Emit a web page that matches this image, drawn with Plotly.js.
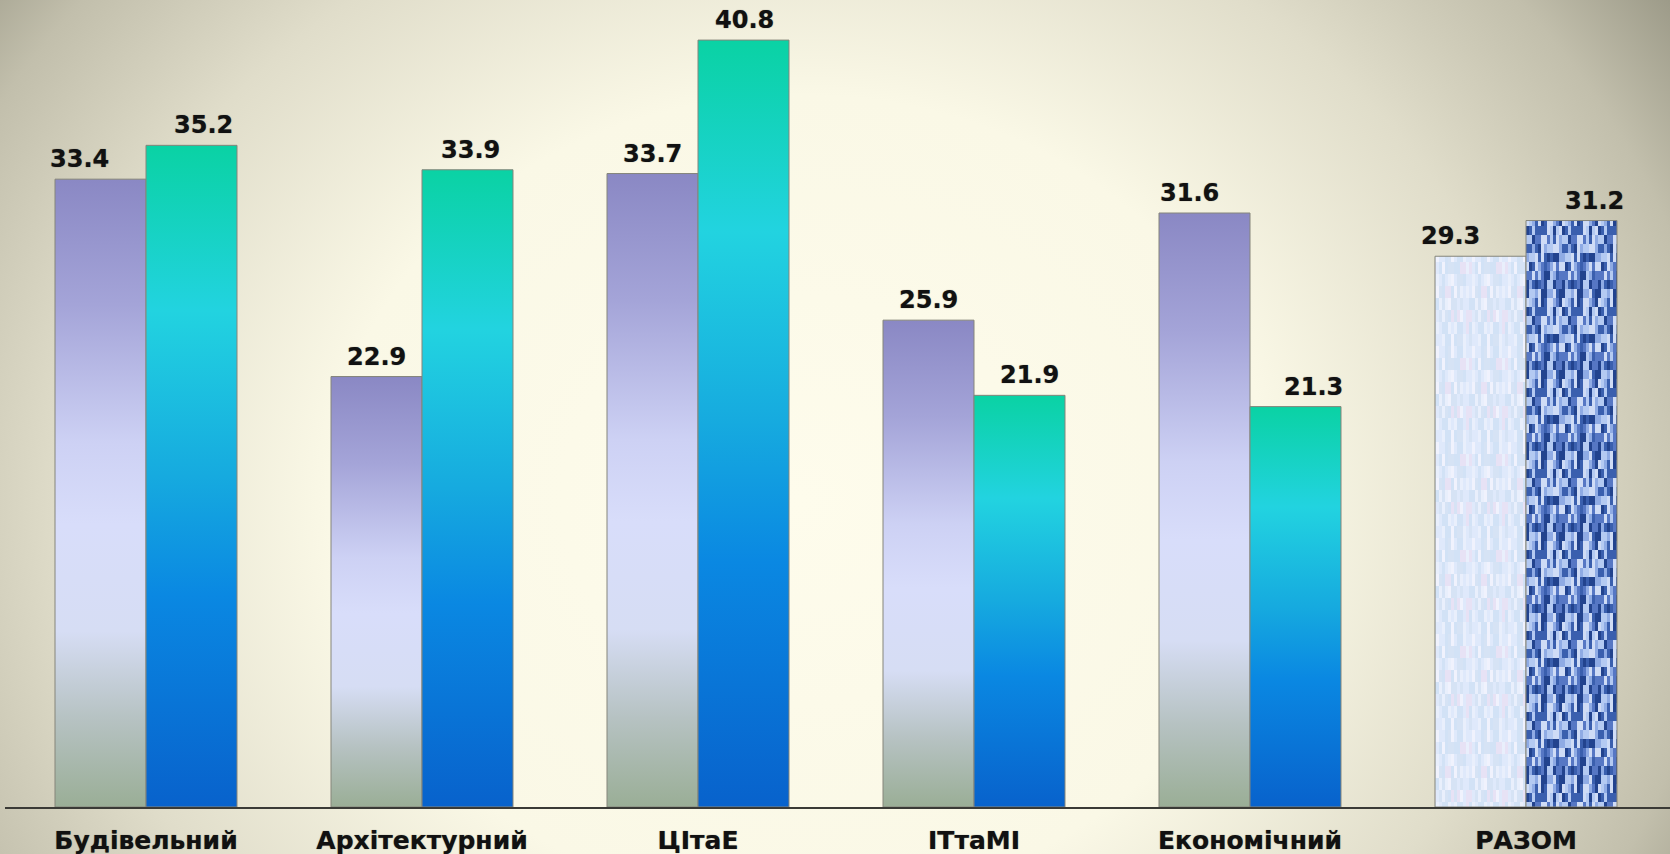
<!DOCTYPE html>
<html><head><meta charset="utf-8">
<script src="https://cdn.plot.ly/plotly-3.0.1.min.js"></script>
<style>
html,body{margin:0;padding:0;}
#chart{width:1670px;height:854px;background:radial-gradient(ellipse 1050px 900px at 800px 500px,#fefcec 0%,#faf8e6 45%,#e0ddca 70%,#c2bfac 88%,#9c9a88 100%);}
</style></head><body><div id="chart"></div>
<script>
// ---- data ----
const categories = ['Будівельний','Архітектурний','ЦІтаЕ','ІТтаМІ','Економічний','РАЗОМ'];
const series1 = [33.4, 22.9, 33.7, 25.9, 31.6, 29.3];
const series2 = [35.2, 33.9, 40.8, 21.9, 21.3, 31.2];

// ---- style / layout constants ----
const W = 1670, H = 854;
const PLOT_L = 5, PLOT_R = 0, PLOT_T = 10, PLOT_B = 47;
const CAT_STEP = 276, FIRST_CAT_PX = 146;
const BARGAP = 1 - 182 / CAT_STEP;
const BAR_HALF = (1 - BARGAP) * CAT_STEP / 4;
const labelShift1 = [-21, 0, 0, 0, -15, -30];
const labelShift2 = [12, 3, 1, 10, 18, 23];
const FONT = {family: 'DejaVu Sans', size: 24, weight: 'bold', color: '#111111', shadow: '0px 0px 1px rgba(0,0,0,0.55)'};
const TICKFONT = {family: 'DejaVu Sans', size: 25, weight: 'bold', color: '#111111', shadow: '0px 0px 1px rgba(0,0,0,0.55)'};

const r0 = -(FIRST_CAT_PX - PLOT_L) / CAT_STEP;
const r1 = (W - PLOT_R - FIRST_CAT_PX) / CAT_STEP;

const traces = [
  {type: 'bar', name: 'series1', x: categories, y: series1,
   marker: {color: '#b8bce8', line: {color: '#85857a', width: 1}}, hoverinfo: 'x+y'},
  {type: 'bar', name: 'series2', x: categories, y: series2,
   marker: {color: '#10a8e0', line: {color: '#85857a', width: 1}}, hoverinfo: 'x+y'}
];

const annotations = [];
categories.forEach((c, i) => {
  annotations.push({x: c, y: series1[i], xref: 'x', yref: 'y', text: series1[i].toFixed(1),
    showarrow: false, yanchor: 'bottom', xshift: -BAR_HALF + labelShift1[i], yshift: 4, font: FONT});
  annotations.push({x: c, y: series2[i], xref: 'x', yref: 'y', text: series2[i].toFixed(1),
    showarrow: false, yanchor: 'bottom', xshift: BAR_HALF + labelShift2[i], yshift: 4, font: FONT});
});

const layout = {
  width: W, height: H,
  margin: {l: PLOT_L, r: PLOT_R, t: PLOT_T, b: PLOT_B},
  paper_bgcolor: 'rgba(0,0,0,0)', plot_bgcolor: 'rgba(0,0,0,0)',
  barmode: 'group', bargap: BARGAP, bargroupgap: 0,
  showlegend: false,
  xaxis: {type: 'category', range: [r0, r1], showline: true, linecolor: '#3a3a36', linewidth: 2,
          ticks: '', ticklabelstandoff: 10, showgrid: false, zeroline: false, tickfont: TICKFONT, fixedrange: true},
  yaxis: {range: [0, 42.4], visible: false, fixedrange: true},
  annotations: annotations
};

function hash(i, j, s) {
  const v = Math.sin(i * 12.9898 + j * 78.233 + s * 37.719) * 43758.5453;
  return v - Math.floor(v);
}

Plotly.newPlot('chart', traces, layout, {displayModeBar: false, staticPlot: true}).then(gd => {
  const NS = 'http://www.w3.org/2000/svg';
  const svg = gd.querySelector('svg.main-svg');
  let defs = svg.querySelector('defs');
  if (!defs) { defs = document.createElementNS(NS, 'defs'); svg.insertBefore(defs, svg.firstChild); }
  function grad(id, stops) {
    const g = document.createElementNS(NS, 'linearGradient');
    g.setAttribute('id', id); g.setAttribute('x1', '0'); g.setAttribute('y1', '0');
    g.setAttribute('x2', '0'); g.setAttribute('y2', '1');
    stops.forEach(([o, c]) => {
      const s = document.createElementNS(NS, 'stop');
      s.setAttribute('offset', o); s.setAttribute('stop-color', c); g.appendChild(s);
    });
    defs.appendChild(g);
  }
  grad('gS1', [[0, '#8a88c4'], [0.2, '#a4a4d8'], [0.42, '#cdd1f4'], [0.55, '#d8ddfa'], [0.72, '#d6ddf4'], [0.86, '#b6c2c2'], [1, '#9aae96']]);
  grad('gS2', [[0, '#0ad2a4'], [0.25, '#22d3e0'], [0.5, '#16aadf'], [0.68, '#0a88e2'], [1, '#0862cc']]);
  function pattern(id, cw, ch, nx, ny, palette, seed) {
    const p = document.createElementNS(NS, 'pattern');
    p.setAttribute('id', id); p.setAttribute('patternUnits', 'userSpaceOnUse');
    p.setAttribute('width', cw * nx); p.setAttribute('height', ch * ny);
    for (let i = 0; i < nx; i++) for (let j = 0; j < ny; j++) {
      const r = document.createElementNS(NS, 'rect');
      r.setAttribute('x', i * cw); r.setAttribute('y', j * ch);
      r.setAttribute('width', cw); r.setAttribute('height', ch);
      r.setAttribute('fill', palette[Math.floor(hash(i, j, seed) * palette.length)]);
      p.appendChild(r);
    }
    defs.appendChild(p);
  }
  pattern('pS1', 3, 12, 12, 8, ['#dfe9fb', '#e9effc', '#d2e2f6', '#e7e2f5', '#f0f2fd', '#d6e3f5'], 1);
  pattern('pS2', 3, 9, 12, 9, ['#22438e', '#3a5fae', '#5677c4', '#8fabe4', '#b4caf2', '#cfdcf6'], 2);
  const tr = gd.querySelectorAll('.barlayer .trace');
  tr.forEach((t, ti) => {
    t.querySelectorAll('.point path').forEach((p, pi) => {
      const last = pi === categories.length - 1;
      p.style.fill = last ? (ti === 0 ? 'url(#pS1)' : 'url(#pS2)') : (ti === 0 ? 'url(#gS1)' : 'url(#gS2)');
    });
  });
});
</script></body></html>
